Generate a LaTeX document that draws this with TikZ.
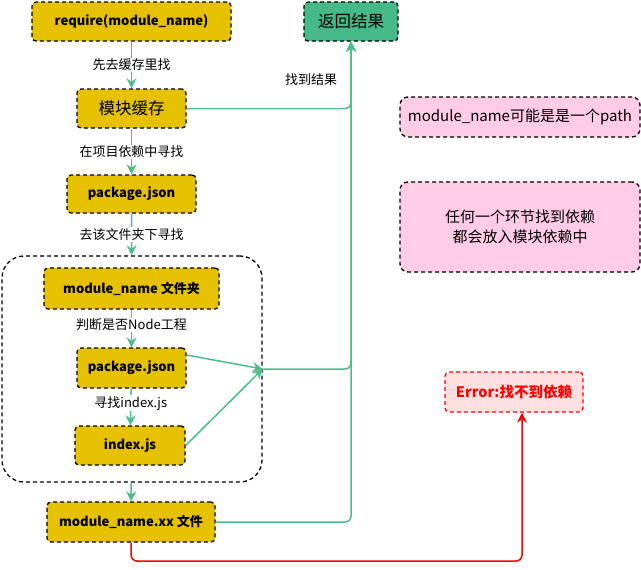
\documentclass[tikz,border=0pt]{standalone}
\usepackage{fontspec}
\setmainfont{Noto Sans CJK SC}
\usetikzlibrary{arrows.meta}
\definecolor{boxgold}{HTML}{E5C100}
\definecolor{resgreen}{HTML}{45B987}
\definecolor{flowgreen}{HTML}{4DBE89}
\definecolor{notepink}{HTML}{FFCCE5}
\definecolor{errfill}{HTML}{FFE0E0}
\definecolor{errred}{HTML}{FF0000}

\begin{document}
\begin{tikzpicture}[x=1pt, y=-1pt,
  box/.style={draw, dash pattern=on 4pt off 3pt, line width=1.3pt, rounded corners=4pt,
    fill=boxgold, inner sep=0pt, font=\bfseries\fontsize{13}{15}\selectfont},
  note/.style={box, fill=notepink, rounded corners=8pt, font=\fontsize{15}{20}\selectfont},
  errbox/.style={box, draw=errred, fill=errfill, text=errred, font=\bfseries\fontsize{14.5}{16}\selectfont},
  flow/.style={draw=flowgreen, line width=1.5pt, -{Stealth[length=10pt,width=10pt]}},
  lbl/.style={fill=white, inner sep=1pt, font=\fontsize{13}{15}\selectfont}]
\useasboundingbox (0,0) rectangle (641,570);

% left column
\node[box, minimum width=199pt, minimum height=39pt] (req) at (131.5,21.5) {require(module\_name)};
\node[box, minimum width=109pt, minimum height=39pt, font=\fontsize{16.5}{18}\selectfont] (cache) at (131.5,108.5) {模块缓存};
\node[box, minimum width=129pt, minimum height=38pt] (pkga) at (131.5,194) {package.json};
\node[draw, dash pattern=on 4pt off 3pt, line width=1.3pt, rounded corners=22pt,
  minimum width=260pt, minimum height=226pt] (grp) at (132,369) {};
\node[box, minimum width=175pt, minimum height=41pt] (dir) at (131.5,288.5) {module\_name 文件夹};
\node[box, minimum width=109pt, minimum height=40pt] (pkgb) at (131.5,368) {package.json};
\node[box, minimum width=110pt, minimum height=39pt] (idx) at (130,445.5) {index.js};
\node[box, minimum width=168pt, minimum height=40pt] (xx) at (131,522) {module\_name.xx 文件};

% result and notes
\node[box, fill=resgreen, minimum width=94pt, minimum height=39pt, font=\fontsize{16.5}{18}\selectfont] (res) at (351,21.5) {返回结果};
\node[lbl] (found) at (311,80) {找到结果};
\node[note, minimum width=240pt, minimum height=40pt] (path) at (520,117) {module\_name可能是是一个path};
\node[note, minimum width=240pt, minimum height=90pt, align=center] (any) at (520,227) {任何一个环节找到依赖\\都会放入模块依赖中};
\node[errbox, minimum width=138pt, minimum height=40pt] (err) at (514,392) {Error:找不到依赖};

\draw[flow] (req) -- node[lbl]{先去缓存里找} (cache);
\draw[flow] (cache) -- node[lbl]{在项目依赖中寻找} (pkga);
\draw[flow] (pkga) -- node[lbl]{去该文件夹下寻找} (grp);
\draw[flow] (dir) -- node[lbl, pos=0.4]{判断是否Node工程} (pkgb);
\draw[flow] (pkgb) -- node[lbl, pos=0.4]{寻找index.js} (idx);
\draw[flow] (grp) -- (xx);
\draw[flow] ([yshift=13pt]pkgb.east) -- (grp.east);
\draw[flow] (idx.east) -- (grp.east);
\draw[flow, rounded corners=6pt] (grp.east) -| (res.south);
\draw[flow, rounded corners=6pt] (cache.east) -| (res.south);
\draw[flow, rounded corners=6pt] (xx.east) -| (res.south);

\coordinate (rc) at (522,561);
\draw[errred, line width=1.5pt, rounded corners=6pt, -{Stealth[length=10pt,width=10pt]}]
  (xx.south) |- (rc) -- (rc |- err.south);

\end{tikzpicture}
\end{document}
